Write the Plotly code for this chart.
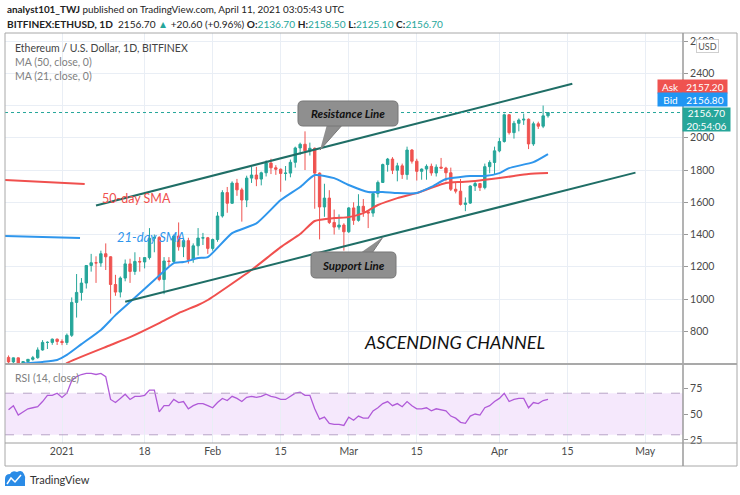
import plotly.graph_objects as go
import pandas as pd

W, H = 740, 495

# ---------------- data ----------------
dates = pd.date_range("2020-12-21", "2021-04-11", freq="D")

opens = [638, 610, 635, 585, 612, 626, 636, 684, 731, 731, 751,
         737, 730, 775, 979, 1041, 1099, 1208, 1225, 1224, 1281, 1262, 1090, 1043, 1130, 1218, 1171, 1233, 1230, 1257, 1377,
         1382, 1121, 1236, 1233, 1391, 1324, 1362, 1245, 1330, 1378, 1380,
         1314, 1369, 1515, 1660, 1594, 1719, 1677, 1614, 1750, 1769, 1744, 1783, 1843, 1814, 1805, 1779, 1781, 1848, 1937, 1960,
         1919, 1935, 1781, 1571, 1626, 1475, 1446, 1459,
         1417, 1565, 1488, 1575, 1541, 1533, 1654, 1723, 1834, 1868, 1799, 1826, 1772, 1924, 1855, 1792, 1806, 1823, 1782, 1818,
         1812, 1783, 1681, 1669, 1587, 1595, 1701, 1716, 1691, 1821, 1847,
         1919, 1977, 2143, 2032, 2090, 2110, 2115, 1962, 2087, 2072, 2136.7]
highs = [650, 637, 637, 613, 628, 647, 700, 745, 738, 755, 755,
         750, 786, 1010, 1155, 1130, 1210, 1280, 1265, 1300, 1345, 1265, 1150, 1140, 1245, 1250, 1290, 1260, 1260, 1440, 1400,
         1390, 1260, 1260, 1400, 1475, 1375, 1380, 1345, 1440, 1410, 1385,
         1375, 1540, 1675, 1695, 1730, 1745, 1690, 1765, 1820, 1820, 1790, 1860, 1870, 1830, 1810, 1825, 1865, 1945, 1970, 2040,
         1970, 1940, 1785, 1715, 1675, 1555, 1525, 1470,
         1570, 1600, 1650, 1620, 1545, 1660, 1735, 1840, 1875, 1880, 1845, 1840, 1945, 1930, 1870, 1810, 1835, 1840, 1835, 1875,
         1820, 1815, 1725, 1745, 1630, 1705, 1730, 1720, 1840, 1860, 1945,
         2000, 2150, 2145, 2105, 2120, 2150, 2120, 2100, 2100, 2200, 2158.5]
lows = [600, 587, 560, 570, 595, 618, 630, 680, 690, 716, 715,
        714, 715, 765, 885, 990, 1065, 1170, 1100, 1200, 1180, 910, 1020, 1010, 1110, 1100, 1150, 1170, 1190, 1245, 1290,
        1110, 1030, 1200, 1225, 1300, 1260, 1220, 1225, 1270, 1335, 1280,
        1300, 1355, 1505, 1535, 1590, 1640, 1480, 1570, 1720, 1700, 1705, 1760, 1775, 1770, 1665, 1735, 1755, 1815, 1895, 1800,
        1890, 1560, 1370, 1510, 1465, 1400, 1430, 1300,
        1410, 1460, 1480, 1510, 1440, 1510, 1630, 1720, 1790, 1775, 1730, 1745, 1740, 1840, 1735, 1740, 1740, 1765, 1760, 1810,
        1730, 1670, 1655, 1580, 1545, 1590, 1670, 1670, 1680, 1780, 1770,
        1910, 1970, 2020, 1995, 2040, 2080, 1930, 1950, 2055, 2060, 2125.1]
closes = [610, 635, 585, 612, 626, 636, 684, 731, 731, 751, 737,
          730, 775, 979, 1041, 1099, 1208, 1225, 1224, 1281, 1262, 1090, 1043, 1130, 1218, 1171, 1233, 1230, 1257, 1377, 1382,
          1121, 1236, 1233, 1391, 1324, 1362, 1245, 1330, 1378, 1380, 1314,
          1369, 1515, 1660, 1594, 1719, 1677, 1614, 1750, 1769, 1744, 1783, 1843, 1814, 1805, 1779, 1781, 1848, 1937, 1960, 1919,
          1935, 1781, 1571, 1626, 1475, 1446, 1459, 1417,
          1565, 1488, 1575, 1541, 1533, 1654, 1723, 1834, 1868, 1799, 1826, 1772, 1924, 1855, 1792, 1806, 1823, 1782, 1818, 1812,
          1783, 1681, 1669, 1587, 1595, 1701, 1716, 1691, 1821, 1847, 1919,
          1977, 2143, 2032, 2090, 2110, 2115, 1962, 2087, 2072, 2136.1, 2156.7]

rsi = [54, 58, 49, 52, 55, 56, 57, 62, 68, 68, 70,
       66, 70, 82, 86, 88, 89, 89, 88, 89, 86, 64, 61, 65, 69, 64, 67, 67, 68, 73, 73, 52, 58, 58, 64, 61, 62, 55, 58, 60, 60, 58,
       56, 61, 65, 63, 67, 65, 62, 66, 67, 66, 67, 69, 67, 66, 64, 64, 67, 70, 71, 68, 68, 55, 45, 47, 41, 40, 40, 39,
       47, 44, 48, 46, 46, 53, 56, 60, 62, 58, 60, 57, 62, 58, 55, 55, 56, 53, 55, 54, 53, 48, 46, 42, 41, 48, 50, 49, 56, 58, 62,
       65, 70, 62, 64, 65, 65, 56, 61, 60, 63, 64]

ma21_dates = ["2020-12-24", "2020-12-28", "2020-12-31", "2021-01-02", "2021-01-05", "2021-01-09", "2021-01-12",
              "2021-01-15", "2021-01-20", "2021-01-24", "2021-01-26", "2021-01-29", "2021-01-31", "2021-02-05",
              "2021-02-10", "2021-02-15", "2021-02-19", "2021-02-22", "2021-02-26", "2021-03-01", "2021-03-05",
              "2021-03-08", "2021-03-11", "2021-03-15", "2021-03-18", "2021-03-21", "2021-03-24", "2021-03-26",
              "2021-03-29", "2021-04-01", "2021-04-03", "2021-04-08", "2021-04-11"]
ma21 = [600, 610, 622, 653, 720, 808, 900, 981, 1118, 1223, 1229, 1254, 1260, 1409,
        1469, 1614, 1695, 1769, 1750, 1707, 1664, 1664, 1657, 1657, 1695, 1744, 1757, 1763,
        1763, 1781, 1812, 1849, 1899]

ma50_dates = ["2021-01-01", "2021-01-02", "2021-01-11", "2021-01-15", "2021-01-21", "2021-01-25", "2021-01-29",
              "2021-01-31", "2021-02-09", "2021-02-15", "2021-02-19", "2021-02-22", "2021-02-26", "2021-03-01",
              "2021-03-04", "2021-03-07", "2021-03-11", "2021-03-15", "2021-03-18", "2021-03-21", "2021-03-24",
              "2021-03-27", "2021-04-01", "2021-04-04", "2021-04-07", "2021-04-11"]
ma50 = [575, 603, 715, 764, 851, 913, 963, 994, 1180, 1322, 1403, 1484, 1502, 1508,
        1533, 1583, 1626, 1657, 1690, 1719, 1726, 1732, 1750, 1763, 1775, 1781]

resist_dates = ["2021-01-08", "2021-04-16"]
resist_prices = [1580, 2335]
support_dates = ["2021-01-14", "2021-04-29"]
support_prices = [983, 1784]

tag50_dates = ["2020-12-19", "2021-01-05 16:00"]
tag50_prices = [1740, 1713]
tag21_dates = ["2020-12-19", "2021-01-04 17:00"]
tag21_prices = [1392, 1378]

res_ptr_dates = ["2021-02-24 16:00", "2021-02-28 05:00", "2021-02-23 02:00"]
res_ptr_prices = [2098, 2098, 1924]
sup_ptr_dates = ["2021-03-02 12:00", "2021-03-05 09:00", "2021-03-08 01:00"]
sup_ptr_prices = [1267, 1267, 1384]

price_ticks = [800, 1000, 1200, 1400, 1600, 1800, 2000, 2200, 2400, 2600]
price_labels = ["800", "1000", "1200", "1400", "1600", "1800", "2000", "", "2400", "2600"]
rsi_ticks = [25, 50, 75]
time_ticks = ["2021-01-01", "2021-01-18", "2021-02-01", "2021-02-15", "2021-03-01",
              "2021-03-15", "2021-04-01", "2021-04-15", "2021-05-01"]
time_labels = ["2021", "18", "Feb", "15", "Mar", "15", "Apr", "15", "May"]

ask_price = 2157.20
bid_price = 2156.80
countdown = "20:54:06"

# ---------------- style ----------------
GREEN = "#26a69a"
RED = "#ef5350"
BLUE = "#2f96ec"
MARED = "#f0504e"
CHAN = "#1f6e66"
GRID = "#e9eef5"
FRAME = "#a8a8a8"
FONT = "Lato"


def px(x):
    return x / W


def py(y):
    return 1 - y / H


def path_px(cmds):
    out = []
    for c in cmds:
        if isinstance(c, str):
            out.append(c)
        else:
            out.append("%.5f,%.5f" % (px(c[0]), py(c[1])))
    return " ".join(out)


def rrect(x0, y0, x1, y1, r):
    return path_px(["M", (x0 + r, y0), "L", (x1 - r, y0), "Q", (x1, y0), (x1, y0 + r),
                    "L", (x1, y1 - r), "Q", (x1, y1), (x1 - r, y1), "L", (x0 + r, y1),
                    "Q", (x0, y1), (x0, y1 - r), "L", (x0, y0 + r), "Q", (x0, y0), (x0 + r, y0), "Z"])


fig = go.Figure()

fig.add_trace(go.Candlestick(
    x=dates, open=opens, high=highs, low=lows, close=closes,
    increasing=dict(line=dict(color=GREEN, width=1), fillcolor=GREEN),
    decreasing=dict(line=dict(color=RED, width=1), fillcolor=RED),
    whiskerwidth=0, hoverinfo="skip", xaxis="x", yaxis="y"))

fig.add_trace(go.Scatter(x=ma50_dates, y=ma50, mode="lines",
                         line=dict(color=MARED, width=2, shape="spline", smoothing=0.5),
                         hoverinfo="skip", xaxis="x", yaxis="y"))
fig.add_trace(go.Scatter(x=ma21_dates, y=ma21, mode="lines",
                         line=dict(color=BLUE, width=2, shape="spline", smoothing=0.5),
                         hoverinfo="skip", xaxis="x", yaxis="y"))

for dx, dy in [(resist_dates, resist_prices), (support_dates, support_prices)]:
    fig.add_trace(go.Scatter(x=dx, y=dy, mode="lines", line=dict(color=CHAN, width=2),
                             hoverinfo="skip", xaxis="x", yaxis="y"))

fig.add_trace(go.Scatter(x=tag50_dates, y=tag50_prices, mode="lines", line=dict(color=MARED, width=2),
                         hoverinfo="skip", xaxis="x", yaxis="y"))
fig.add_trace(go.Scatter(x=tag21_dates, y=tag21_prices, mode="lines", line=dict(color=BLUE, width=2),
                         hoverinfo="skip", xaxis="x", yaxis="y"))

for dx, dy in [(res_ptr_dates, res_ptr_prices), (sup_ptr_dates, sup_ptr_prices)]:
    fig.add_trace(go.Scatter(x=dx, y=dy, mode="lines", fill="toself", fillcolor="#8f8f8f",
                             line=dict(color="#777777", width=1), hoverinfo="skip", xaxis="x", yaxis="y"))

fig.add_trace(go.Scatter(x=dates, y=rsi, mode="lines", line=dict(color="#b05ad8", width=1.3),
                         hoverinfo="skip", xaxis="x", yaxis="y2"))

shapes = [
    # RSI band and levels
    dict(type="rect", xref="x domain", x0=0, x1=1, yref="y2", y0=30, y1=70,
         fillcolor="#f5e8fc", line=dict(width=0), layer="below"),
    dict(type="line", xref="x domain", x0=0, x1=1, yref="y2", y0=70, y1=70,
         line=dict(color="#b7a4c6", width=1, dash="dash")),
    dict(type="line", xref="x domain", x0=0, x1=1, yref="y2", y0=30, y1=30,
         line=dict(color="#b7a4c6", width=1, dash="dash")),
    # last price line
    dict(type="line", xref="x domain", x0=0, x1=1, yref="y", y0=closes[-1], y1=closes[-1],
         line=dict(color=GREEN, width=1, dash="dot")),
    # frame
    dict(type="rect", xref="paper", yref="paper", x0=px(5), x1=px(737), y0=py(466), y1=py(33),
         line=dict(color=FRAME, width=1)),
    dict(type="line", xref="paper", yref="paper", x0=px(683), x1=px(683), y0=py(466), y1=py(33),
         line=dict(color="#9a9a9a", width=1.5)),
    dict(type="line", xref="paper", yref="paper", x0=px(5), x1=px(737), y0=py(364), y1=py(364),
         line=dict(color="#a9a9a9", width=2)),
    dict(type="line", xref="paper", yref="paper", x0=px(5), x1=px(737), y0=py(443), y1=py(443),
         line=dict(color="#9e9e9e", width=1)),
    # callout boxes
    dict(type="path", xref="paper", yref="paper", path=rrect(298, 101, 398, 126, 5),
         fillcolor="#8f8f8f", line=dict(color="#777777", width=1), layer="above"),
    dict(type="path", xref="paper", yref="paper", path=rrect(311, 252, 396, 278, 5),
         fillcolor="#8f8f8f", line=dict(color="#777777", width=1), layer="above"),
    # TradingView logo
    dict(type="path", xref="paper", yref="paper",
         path=path_px(["M", (5, 486), "L", (5, 479), "Q", (5, 474), (10, 474), "Q", (12, 470), (17, 472),
                       "Q", (22, 469), (24, 474), "Q", (26, 477), (25, 481), "L", (25, 486), "Z"]),
         fillcolor="#2a8be6", line=dict(width=0)),
    dict(type="path", xref="paper", yref="paper",
         path=path_px(["M", (7, 484), "L", (11, 478), "L", (15, 482), "L", (21, 475)]),
         line=dict(color="white", width=1.5)),
]

teal = "<span style='color:%s'>%s</span>"
chg = closes[-1] - closes[-2]
pct = chg / closes[-2] * 100
line2 = ("<b>BITFINEX:ETHUSD, 1D</b>&nbsp;&nbsp;%.2f %s +%.2f (+%.2f%%) "
         "<b>O:</b>%s <b>H:</b>%s <b>L:</b>%s <b>C:</b>%s") % (
    closes[-1], teal % (GREEN, "▲"), chg, pct,
    teal % (GREEN, "%.2f" % opens[-1]), teal % (GREEN, "%.2f" % highs[-1]),
    teal % (GREEN, "%.2f" % lows[-1]), teal % (GREEN, "%.2f" % closes[-1]))


def note(text, x, y, size=10, color="#333", xanchor="left", **kw):
    d = dict(text=text, x=x, y=y, xref="paper", yref="paper", showarrow=False, xanchor=xanchor,
             yanchor="middle", font=dict(family=FONT, size=size, color=color))
    d.update(kw)
    return d


annotations = [
    note("<b>analyst101_TWJ</b> published on TradingView.com, April 11, 2021 03:05:43 UTC",
         px(5), py(9), 9.9, "#222"),
    note(line2, px(5), py(24), 10.1, "#222"),
    note("Ethereum / U.S. Dollar, 1D, BITFINEX", px(13), py(48), 10.5, "#444"),
    note("MA (50, close, 0)", px(13), py(62), 10.5, "#808080"),
    note("MA (21, close, 0)", px(13), py(76), 10.5, "#808080"),
    note("RSI (14, close)", px(13), py(378), 10.5, "#808080"),
    note("50-day SMA", px(100), py(199), 12.5, MARED),
    note("<i>21-day SMA</i>", px(115), py(237), 13, BLUE),
    note("<i>ASCENDING CHANNEL</i>", px(362), py(342), 18, "#111"),
    note("<b><i>Resistance Line</i></b>", px(348), py(113.5), 11.5, "#111", xanchor="center"),
    note("<b><i>Support Line</i></b>", px(353.5), py(265), 11.5, "#111", xanchor="center"),
    note("TradingView", px(28), py(479), 11, "#333"),
    # right axis labels
    note("USD", px(707.5), py(46), 9, "#555", xanchor="center", bgcolor="white",
         bordercolor="#cfcfcf", borderwidth=1, borderpad=1, width=19, height=10),
    note("Ask", px(670.5), py(86.5), 10, "white", xanchor="center", bgcolor=RED, width=25, height=13, borderpad=0),
    note("%.2f" % ask_price, px(705), py(86.5), 10, "white", xanchor="center", bgcolor=RED,
         width=44, height=13, borderpad=0),
    note("Bid", px(670.5), py(100), 10, "white", xanchor="center", bgcolor="#2196f3", width=25, height=13, borderpad=0),
    note("%.2f" % bid_price, px(705), py(100), 10, "white", xanchor="center", bgcolor="#2196f3",
         width=44, height=13, borderpad=0),
    note("%.2f<br>%s" % (closes[-1], countdown), px(706.5), py(119), 10, "white", xanchor="center",
         bgcolor=GREEN, width=47, height=23, borderpad=0),
]

fig.update_layout(
    width=W, height=H, margin=dict(l=0, r=0, t=0, b=0),
    paper_bgcolor="white", plot_bgcolor="white", showlegend=False, hovermode=False,
    font=dict(family=FONT, size=10, color="#4a4a4a"),
    xaxis=dict(domain=[px(5), px(683)], anchor="y2",
               range=["2020-12-20 06:30", "2021-05-08 18:40"],
               tickmode="array", tickvals=time_ticks, ticktext=time_labels,
               showgrid=True, gridcolor=GRID, gridwidth=1, ticks="", showline=False, zeroline=False,
               rangeslider=dict(visible=False), tickfont=dict(family=FONT, size=10.5, color="#4a4a4a"),
               automargin=False, fixedrange=True),
    yaxis=dict(domain=[py(364), py(33)], anchor="x", side="right", range=[597, 2650],
               tickmode="array", tickvals=price_ticks, ticktext=price_labels,
               showgrid=True, gridcolor=GRID, gridwidth=1, zeroline=False, showline=False,
               ticks="outside", ticklen=4, tickcolor="#999", tickfont=dict(family=FONT, size=10.5, color="#4a4a4a"),
               automargin=False, fixedrange=True),
    yaxis2=dict(domain=[py(443), py(364)], anchor="x", side="right", range=[22.1, 98.1],
                tickmode="array", tickvals=rsi_ticks, showgrid=False, zeroline=False, showline=False,
                ticks="outside", ticklen=4, tickcolor="#999", tickfont=dict(family=FONT, size=10.5, color="#4a4a4a"),
                automargin=False, fixedrange=True),
    shapes=shapes, annotations=annotations,
)

fig.write_html("out.html", config={"displayModeBar": False},
               post_script="document.body.style.margin='0px';document.body.style.overflow='hidden';")
